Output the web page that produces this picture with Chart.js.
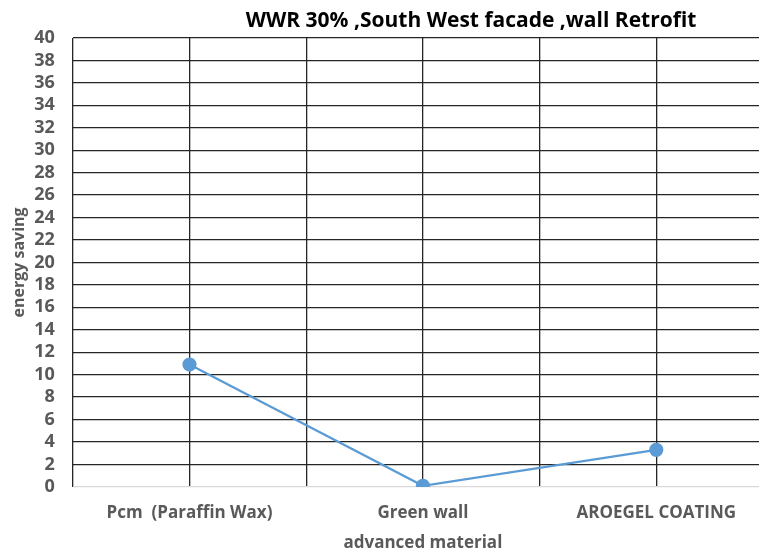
<!DOCTYPE html>
<html>
<head>
<meta charset="utf-8">
<script src="https://cdn.jsdelivr.net/npm/chart.js@4/dist/chart.umd.min.js"></script>
<style>
  html, body { margin: 0; padding: 0; background: #fff; overflow: hidden }
  #wrap { width: 759px; height: 553px; overflow: hidden; position: relative }
  #box { width: 942px; height: 553px; position: absolute; left: 0; top: 0 }
</style>
</head>
<body>
<div id="wrap"><div id="box"><canvas id="chart"></canvas></div></div>
<script>
const chartTitle = 'WWR 30% ,South West facade ,wall Retrofit'
const materials = ['Pcm  (Paraffin Wax)', 'Green wall', 'AROEGEL COATING']
const energySaving = [10.9, 0.1, 3.3]
const yTicks = { min: 0, max: 40, step: 2 }

const font = '"Open Sans", Lato, sans-serif'

const points = materials.map((m, i) => ({ x: i, y: energySaving[i] }))

// the title sits centred on the whole chart, not on the plot, so draw it here
const centreTitle = {
  id: 'centreTitle',
  afterDraw (chart) {
    const ctx = chart.ctx
    ctx.save()
    ctx.font = 'bold 21px ' + font
    ctx.fillStyle = '#000'
    ctx.textAlign = 'center'
    ctx.textBaseline = 'middle'
    ctx.fillText(chartTitle, chart.width / 2, 21)
    ctx.restore()
  }
}

new Chart(document.getElementById('chart').getContext('2d'), {
  type: 'line',
  data: {
    datasets: [
      {
        label: 'energy saving',
        data: points,
        borderColor: '#5b9bd5',
        backgroundColor: '#5b9bd5',
        borderWidth: 2.2,
        pointRadius: 6,
        pointHoverRadius: 6,
        tension: 0
      }
    ]
  },
  plugins: [centreTitle],
  options: {
    responsive: true,
    maintainAspectRatio: false,
    animation: false,
    layout: { padding: { left: 10, right: 169, top: 38, bottom: 0 } },
    plugins: {
      legend: { display: false },
      tooltip: { enabled: false },
      title: { display: false }
    },
    scales: {
      x: {
        type: 'linear',
        min: -0.5,
        max: materials.length - 0.5,
        border: { display: false },
        grid: { color: '#262626', lineWidth: 1.3, drawTicks: false },
        afterFit: scale => { scale.height -= 5 },
        ticks: {
          stepSize: 0.5,
          padding: 16,
          color: '#595959',
          font: { family: font, size: 17, weight: 'bold' },
          maxRotation: 0,
          autoSkip: false,
          callback: v => Number.isInteger(v) && materials[v] !== undefined ? materials[v] : ''
        },
        title: {
          display: true,
          text: 'advanced material',
          color: '#595959',
          font: { family: font, size: 17, weight: 'bold', lineHeight: 1.1 },
          padding: { top: 0, bottom: 0 }
        }
      },
      y: {
        min: yTicks.min,
        max: yTicks.max,
        border: { display: false },
        grid: {
          color: ctx => ctx.tick && ctx.tick.value === 0 ? '#d9d9d9' : '#262626',
          lineWidth: 1.3,
          drawTicks: false
        },
        afterFit: scale => { scale.width -= 17 },
        ticks: {
          stepSize: yTicks.step,
          autoSkip: false,
          padding: 18,
          color: '#595959',
          font: { family: font, size: 18, weight: 'bold' }
        },
        title: {
          display: true,
          text: 'energy saving',
          color: '#595959',
          font: { family: font, size: 16, weight: 'bold' },
          padding: { top: 0, bottom: 4 }
        }
      }
    }
  }
})
</script>
</body>
</html>
